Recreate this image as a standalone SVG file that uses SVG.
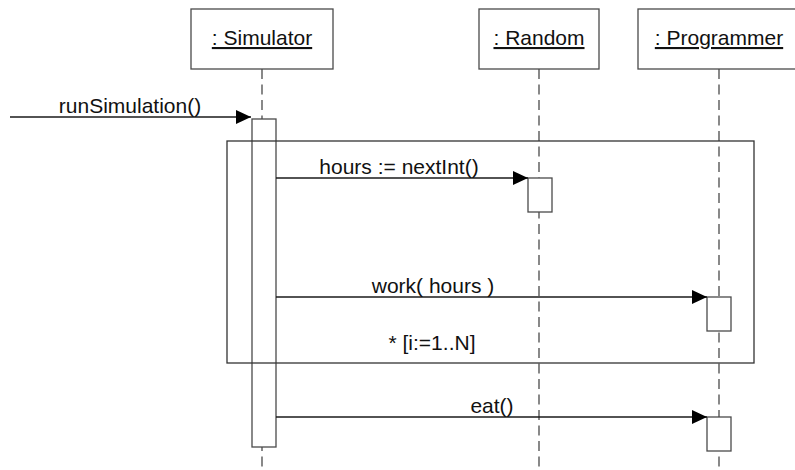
<svg xmlns="http://www.w3.org/2000/svg" width="795" height="470" viewBox="0 0 795 470">
  <defs>
    <style>
      .box { fill: #ffffff; stroke: #4a4a4a; stroke-width: 1.3; }
      .life { stroke: #4a4a4a; stroke-width: 1.3; stroke-dasharray: 10 5.5; fill: none; }
      .act { fill: #ffffff; stroke: #4a4a4a; stroke-width: 1.3; }
      .frame { fill: none; stroke: #333333; stroke-width: 1.3; }
      .msg { stroke: #1a1a1a; stroke-width: 1.3; fill: none; marker-end: url(#arrow); }
      .lbl { font-family: "Liberation Sans", Arial, sans-serif; font-size: 21px; fill: #111111; text-anchor: middle; }
      .name { text-decoration: underline; }
    </style>
    <marker id="arrow" viewBox="0 0 15 14" refX="15" refY="7" markerWidth="15" markerHeight="14" markerUnits="userSpaceOnUse" orient="auto">
      <path d="M0,0 L15,7 L0,14 Z" fill="#000000"/>
    </marker>
  </defs>
  <rect width="795" height="470" fill="#ffffff"/>

  <g id="simulator">
    <line class="life" x1="262" y1="69" x2="262" y2="470"/>
    <rect class="box" x="191" y="9" width="142" height="60"/>
    <text class="lbl name" x="262" y="45">: Simulator</text>
    <rect class="act" x="252" y="119" width="24" height="328"/>
  </g>

  <g id="random">
    <line class="life" x1="539" y1="69" x2="539" y2="470"/>
    <rect class="box" x="479" y="9" width="120" height="60"/>
    <text class="lbl name" x="539" y="45">: Random</text>
    <rect class="act" x="528" y="178" width="24" height="34"/>
  </g>

  <g id="programmer">
    <line class="life" x1="719" y1="69" x2="719" y2="470"/>
    <rect class="box" x="638" y="9" width="170" height="60"/>
    <text class="lbl name" x="719" y="45">: Programmer</text>
    <rect class="act" x="707" y="297" width="24" height="34"/>
    <rect class="act" x="707" y="417" width="24" height="34"/>
  </g>

  <g id="loop">
    <rect class="frame" x="227" y="141" width="527" height="222"/>
    <text class="lbl" x="432" y="350">* [i:=1..N]</text>
  </g>

  <g id="connectors">
    <line class="msg" x1="10" y1="117" x2="251" y2="117"/>
    <text class="lbl" x="130" y="113">runSimulation()</text>
    <line class="msg" x1="276" y1="178" x2="528" y2="178"/>
    <text class="lbl" x="399" y="174">hours := nextInt()</text>
    <line class="msg" x1="276" y1="297" x2="707" y2="297"/>
    <text class="lbl" x="433" y="293">work( hours )</text>
    <line class="msg" x1="276" y1="417" x2="707" y2="417"/>
    <text class="lbl" x="492" y="413">eat()</text>
  </g>
</svg>
